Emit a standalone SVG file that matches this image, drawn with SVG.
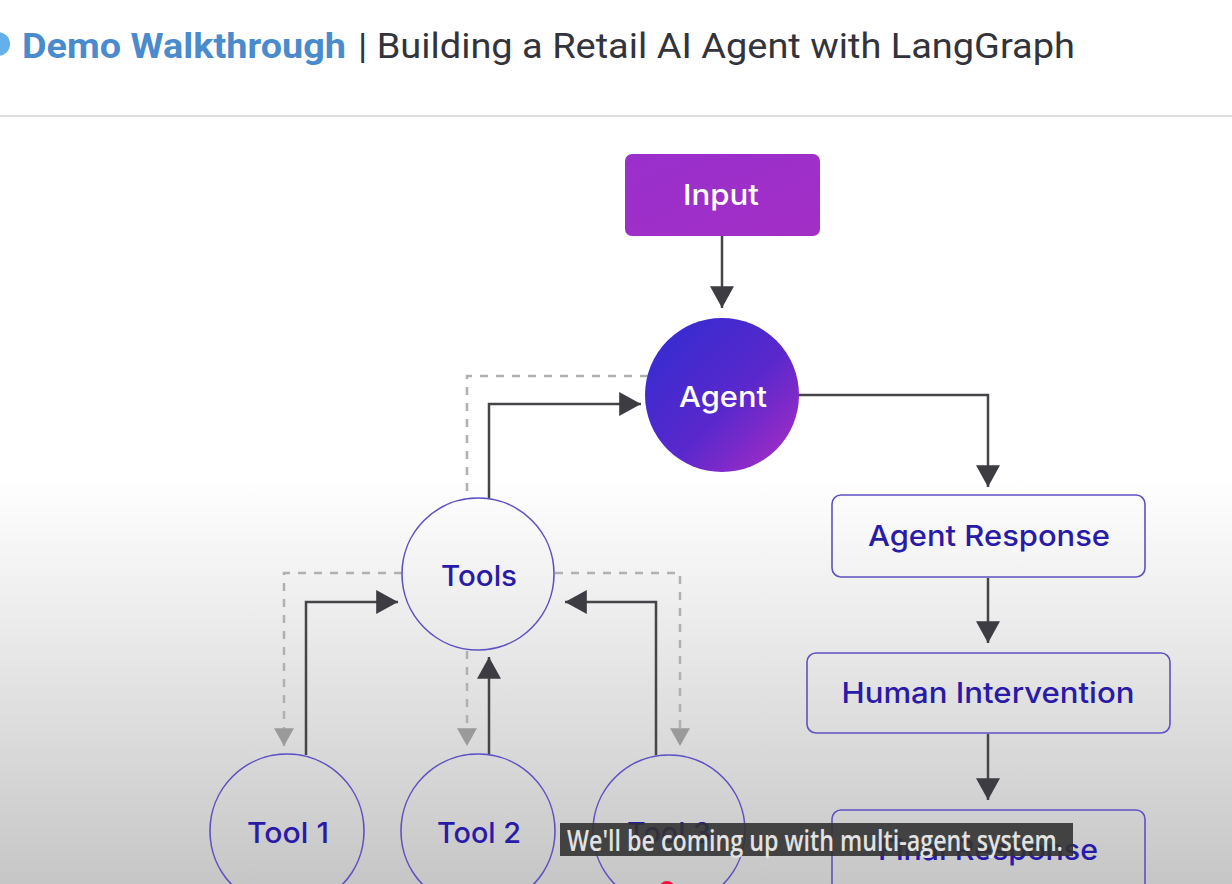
<svg xmlns="http://www.w3.org/2000/svg" width="1232" height="884" viewBox="0 0 1232 884">
<defs>
<linearGradient id="bg" x1="0" y1="0" x2="0" y2="1">
<stop offset="0" stop-color="#ffffff"/>
<stop offset="0.54" stop-color="#ffffff"/>
<stop offset="0.7" stop-color="#ececec"/>
<stop offset="1" stop-color="#c6c6c6"/>
</linearGradient>
<linearGradient id="inputFill" x1="0" y1="0" x2="1" y2="1">
<stop offset="0" stop-color="#9a30cc"/>
<stop offset="1" stop-color="#a22fc6"/>
</linearGradient>
<linearGradient id="agentFill" x1="0.15" y1="0.15" x2="0.9" y2="0.9">
<stop offset="0" stop-color="#3a2bd0"/>
<stop offset="0.55" stop-color="#5a28cc"/>
<stop offset="1" stop-color="#9e2cc6"/>
</linearGradient>
<marker id="ah" markerUnits="userSpaceOnUse" markerWidth="22" markerHeight="24" viewBox="0 0 20 22" refX="20" refY="11" orient="auto">
<path d="M0,0 L20,11 L0,22 Z" fill="#3c3c42"/>
</marker>
<marker id="ahg" markerUnits="userSpaceOnUse" markerWidth="18" markerHeight="20" viewBox="0 0 16 18" refX="16" refY="9" orient="auto">
<path d="M0,0 L16,9 L0,18 Z" fill="#9a9a9a"/>
</marker>
<style>
.solid{fill:none;stroke:#444449;stroke-width:2.5}
.dash{fill:none;stroke:#b0b0b0;stroke-width:2.5;stroke-dasharray:8 8}
.node{fill:none;stroke:#5d52c2;stroke-width:1.6}
.lbl{font-family:Inter,"Noto Sans",sans-serif;font-weight:500;font-size:29px;fill:#2a1aa8;text-anchor:middle}
.wl{font-family:Inter,"Noto Sans",sans-serif;font-weight:500;font-size:29px;fill:#ffffff;text-anchor:middle}
</style>
</defs>
<rect x="0" y="0" width="1232" height="884" fill="url(#bg)"/>
<g id="header">
<circle cx="-2" cy="44" r="12" fill="#63b0ea"/>
<text x="22" y="58" font-family="Roboto,'Liberation Sans',sans-serif" font-weight="700" font-size="35" fill="#4a8bcd" textLength="324" lengthAdjust="spacingAndGlyphs">Demo Walkthrough</text>
<text x="358" y="58" font-family="Roboto,'Liberation Sans',sans-serif" font-size="35" fill="#33333b" textLength="717" lengthAdjust="spacingAndGlyphs">| Building a Retail AI Agent with LangGraph</text>
<rect x="0" y="115" width="1232" height="2" fill="#dedede"/>
</g>
<g id="connectors">
<path class="solid" d="M722,236 V308" marker-end="url(#ah)"/>
<path class="solid" d="M798,395 H988 V487" marker-end="url(#ah)"/>
<path class="solid" d="M988,578 V643" marker-end="url(#ah)"/>
<path class="solid" d="M988,734 V800" marker-end="url(#ah)"/>
<path class="dash" d="M648,376 H467 V498"/>
<path class="solid" d="M489,498 V404 H641" marker-end="url(#ah)"/>
<path class="dash" d="M402,573 H284 V746" marker-end="url(#ahg)"/>
<path class="solid" d="M306,755 V602 H398" marker-end="url(#ah)"/>
<path class="dash" d="M467,651 V746" marker-end="url(#ahg)"/>
<path class="solid" d="M489,754 V657" marker-end="url(#ah)"/>
<path class="dash" d="M555,573 H680 V746" marker-end="url(#ahg)"/>
<path class="solid" d="M656,755 V602 H565" marker-end="url(#ah)"/>
</g>
<g id="input">
<rect x="625" y="154" width="195" height="82" rx="7" fill="url(#inputFill)"/>
<text class="wl" x="721" y="205" textLength="76" lengthAdjust="spacingAndGlyphs">Input</text>
</g>
<g id="agent">
<circle cx="722" cy="395" r="77" fill="url(#agentFill)"/>
<text class="wl" x="723" y="407" textLength="88" lengthAdjust="spacingAndGlyphs">Agent</text>
</g>
<g id="tools">
<circle class="node" cx="478" cy="574" r="76"/>
<text class="lbl" x="479" y="586" textLength="76" lengthAdjust="spacingAndGlyphs">Tools</text>
</g>
<g id="tool1">
<circle class="node" cx="287" cy="831" r="77"/>
<text class="lbl" x="288" y="843" textLength="82" lengthAdjust="spacingAndGlyphs">Tool 1</text>
</g>
<g id="tool2">
<circle class="node" cx="478" cy="831" r="77"/>
<text class="lbl" x="479" y="843" textLength="84" lengthAdjust="spacingAndGlyphs">Tool 2</text>
</g>
<g id="tool3">
<circle class="node" cx="669" cy="831" r="76"/>
<text class="lbl" x="669" y="843" textLength="84" lengthAdjust="spacingAndGlyphs">Tool 3</text>
</g>
<g id="agent-response">
<rect class="node" x="832" y="495" width="313" height="82" rx="9"/>
<text class="lbl" x="989" y="546" textLength="242" lengthAdjust="spacingAndGlyphs">Agent Response</text>
</g>
<g id="human-intervention">
<rect class="node" x="807" y="653" width="363" height="80" rx="9"/>
<text class="lbl" x="988" y="703" textLength="293" lengthAdjust="spacingAndGlyphs">Human Intervention</text>
</g>
<g id="final-response">
<rect class="node" x="832" y="810" width="313" height="90" rx="9"/>
<text class="lbl" x="988" y="860" textLength="220" lengthAdjust="spacingAndGlyphs">Final Response</text>
</g>
<g id="caption">
<rect x="560" y="823" width="513" height="33" fill="#333333" opacity="0.9"/>
<text x="567" y="851" font-family="'Open Sans','Noto Sans',sans-serif" font-weight="600" font-size="28" fill="#e2e2e2" textLength="496" lengthAdjust="spacingAndGlyphs">We'll be coming up with multi-agent system.</text>
</g>
<circle cx="667" cy="889" r="8" fill="#e8173a"/>
</svg>
